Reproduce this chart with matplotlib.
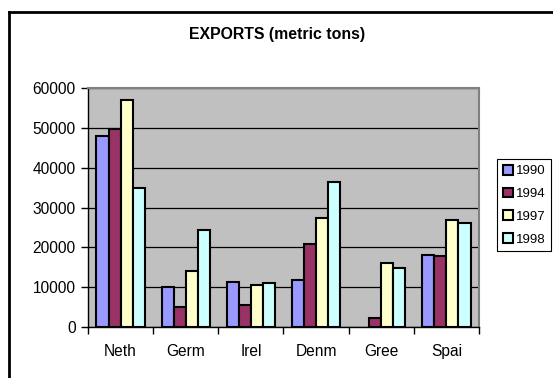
import numpy as np
import matplotlib.pyplot as plt
from matplotlib.lines import Line2D

plt.rcParams['font.family'] = ['Liberation Sans', 'DejaVu Sans']

# export volumes per country and year
countries = ['Neth', 'Germ', 'Irel', 'Denm', 'Gree', 'Spai']
years = ['1990', '1994', '1997', '1998']
exp_1990 = [48000, 10000, 11200, 11900, 0, 18200]
exp_1994 = [49700, 5000, 5600, 20900, 2200, 17900]
exp_1997 = [57000, 14000, 10500, 27400, 16000, 26800]
exp_1998 = [35000, 24300, 11100, 36500, 14800, 26200]
series = [exp_1990, exp_1994, exp_1997, exp_1998]
colors = ['#9999FF', '#993366', '#FFFFCC', '#CCFFFF']

fig = plt.figure(figsize=(5.53, 3.78), dpi=100)
ax = fig.add_axes([88/553, 1-327/378, (479-88)/553, (327-88)/378])
ax.set_facecolor('#C0C0C0')

x = np.arange(len(countries))
w = 0.185
for i, vals in enumerate(series):
    bars = ax.bar(x + (i - 1.5) * w, vals, width=w, color=colors[i],
                  edgecolor='black', linewidth=1.5, label=years[i], zorder=3)
    # empty values get no outline
    for b, v in zip(bars, vals):
        if v == 0:
            b.set_linewidth(0)

ax.set_xlim(-0.5, len(countries) - 0.5)
ax.set_ylim(0, 60000)
ax.set_yticks(np.arange(0, 60001, 10000))
ax.yaxis.grid(True, color='black', linewidth=0.9, zorder=1)
ax.set_axisbelow(True)

# category labels centred, ticks on the boundaries
ax.set_xticks(np.arange(-0.5, len(countries)), minor=False)
ax.set_xticklabels([])
ax.set_xticks(x, minor=True)
ax.set_xticklabels(countries, minor=True)
ax.tick_params(axis='x', which='minor', length=0, pad=12, labelsize=11.2)
ax.tick_params(axis='x', which='major', length=5, width=1, direction='out')
ax.tick_params(axis='y', length=5, width=1, direction='out', labelsize=11.2, pad=4)

for s in ['top', 'right']:
    ax.spines[s].set_color('#808080')
    ax.spines[s].set_linewidth(1.5)
for s in ['left', 'bottom']:
    ax.spines[s].set_color('black')
    ax.spines[s].set_linewidth(1)

fig.text(277/553, 1-35/378, 'EXPORTS (metric tons)', ha='center', va='center',
         fontsize=11.4, fontweight='bold')

leg = fig.legend(loc='upper left', bbox_to_anchor=(497/553, 1-159/378),
                 fancybox=False, edgecolor='black', framealpha=1,
                 fontsize=9.5, handlelength=0.75, handleheight=0.75,
                 handletextpad=0.2, borderpad=0.45, labelspacing=0.78,
                 borderaxespad=0)
leg.get_frame().set_linewidth(0.8)

# outer chart frame, left and top edges
fig.add_artist(Line2D([8.5/553, 8.5/553], [0, 1-12/378], color='black', linewidth=2))
fig.add_artist(Line2D([8.5/553, 1], [1-12/378, 1-12/378], color='black', linewidth=2))

fig.savefig('out.png', dpi=100)
